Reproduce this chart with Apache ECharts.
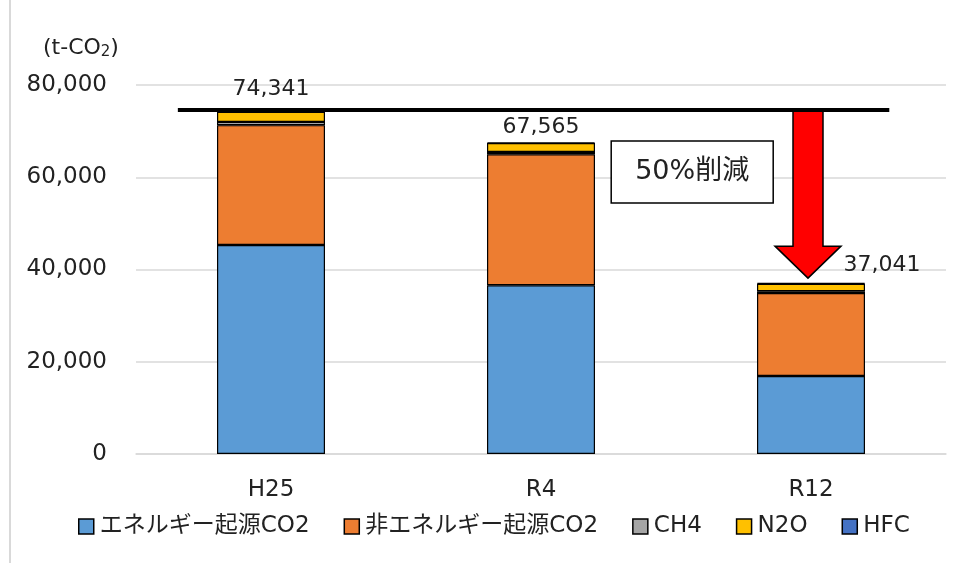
<!DOCTYPE html>
<html><head><meta charset="utf-8">
<script src="https://cdn.jsdelivr.net/npm/echarts@6/dist/echarts.min.js"></script>
<style>html,body{margin:0;padding:0;background:#fff}#c{width:955px;height:563px}</style>
</head><body><div id="c"></div>
<script>
const categories = ['H25', 'R4', 'R12'];
const energyCO2 = [45300, 36600, 16900];
const nonEnergyCO2 = [26000, 28400, 18000];
const ch4 = [700, 500, 400];
const n2o = [2200, 1900, 1600];
const hfc = [141, 165, 141];
const totals = [74341, 67565, 37041];
const yTicks = [0, 20000, 40000, 60000, 80000];
const seriesNames = ['エネルギー起源CO2', '非エネルギー起源CO2', 'CH4', 'N2O', 'HFC'];
const colors = ['#5B9BD5', '#ED7D31', '#A5A5A5', '#FFC000', '#4472C4'];
const reductionText = '50%削減';

const FONT = '"DejaVu Sans", "Noto Sans CJK JP", sans-serif';
const chart = echarts.init(document.getElementById('c'));
const dataSets = [energyCO2, nonEnergyCO2, ch4, n2o, hfc];
const labelPos = [
  { position: 'top', distance: 11 },
  { position: 'top', distance: 4 },
  { position: 'top', distance: 7, offset: [71, 0] }
];
const series = dataSets.map((d, i) => ({
  name: seriesNames[i], type: 'bar', stack: 'total', barWidth: '40%',
  itemStyle: { color: colors[i], borderColor: '#000', borderWidth: 1.2 },
  data: d.map((v, j) => {
    const o = { value: v };
    if (i === dataSets.length - 1) {
      o.label = Object.assign({
        show: true, color: '#222', fontSize: 22, fontFamily: FONT,
        formatter: () => totals[j].toLocaleString('en-US')
      }, labelPos[j]);
    }
    return o;
  })
}));

chart.setOption({
  animation: false,
  textStyle: { fontFamily: FONT },
  grid: { left: 136, right: 9, top: 85, bottom: 109 },
  title: {
    text: '(t-CO{s|2})', left: 38, top: 31,
    textStyle: { fontSize: 22, fontWeight: 'normal', color: '#222', fontFamily: FONT,
      rich: { s: { fontSize: 15, verticalAlign: 'bottom', padding: [9, 0, 0, 0], color: '#222', fontFamily: FONT } } }
  },
  legend: {
    bottom: 20, left: 73, itemWidth: 15, itemHeight: 15, itemGap: 34,
    icon: 'rect',
    itemStyle: { borderColor: '#000', borderWidth: 1.5 },
    textStyle: { fontSize: 23, color: '#222', fontFamily: FONT, padding: [0, 0, 0, 1] },
    data: seriesNames
  },
  xAxis: {
    type: 'category', data: categories,
    axisLine: { lineStyle: { color: '#d9d9d9', width: 1.5 } },
    axisTick: { show: false },
    axisLabel: { fontSize: 23, color: '#222', margin: 25 }
  },
  yAxis: {
    type: 'value', min: yTicks[0], max: yTicks[yTicks.length - 1], interval: yTicks[1] - yTicks[0],
    axisLine: { show: false }, axisTick: { show: false },
    splitLine: { lineStyle: { color: '#d9d9d9', width: 1.5 } },
    axisLabel: { fontSize: 23, color: '#222', margin: 29, formatter: v => v.toLocaleString('en-US') }
  },
  series: series
});

function drawOverlay() {
  const yTop = chart.convertToPixel({ yAxisIndex: 0 }, totals[0]);
  const x0 = chart.convertToPixel({ xAxisIndex: 0 }, categories[0]);
  const x1 = chart.convertToPixel({ xAxisIndex: 0 }, categories[1]);
  const x2 = chart.convertToPixel({ xAxisIndex: 0 }, categories[2]);
  const band = x1 - x0;
  const yEnd = chart.convertToPixel({ yAxisIndex: 0 }, totals[2]);
  const ax = x2 - 3;
  const headY = yEnd - 37;
  const tipY = yEnd - 5;
  chart.setOption({
    graphic: [
      { type: 'line', shape: { x1: 10, y1: 0, x2: 10, y2: 563 }, style: { stroke: '#d9d9d9', lineWidth: 2 }, z: 0 },
      { type: 'polygon', shape: { points: [
          [ax - 15, yTop], [ax + 15, yTop], [ax + 15, headY], [ax + 33, headY],
          [ax, tipY], [ax - 33, headY], [ax - 15, headY]] },
        style: { fill: '#FF0000', stroke: '#000', lineWidth: 1.5 }, z: 100 },
      { type: 'line', shape: { x1: x0 - band * 0.345, y1: yTop - 1, x2: x2 + band * 0.29, y2: yTop - 1 },
        style: { stroke: '#000', lineWidth: 4 }, z: 101 },
      { type: 'rect', shape: { x: x1 + band * 0.26, y: yTop + 30, width: 162, height: 62 },
        style: { fill: '#fff', stroke: '#000', lineWidth: 1.5 }, z: 102 },
      { type: 'text', x: x1 + band * 0.26 + 81, y: yTop + 61,
        style: { text: reductionText, fill: '#222', fontSize: 27, fontFamily: FONT, align: 'center', verticalAlign: 'middle' }, z: 103 }
    ]
  });
}
drawOverlay();
</script></body></html>
